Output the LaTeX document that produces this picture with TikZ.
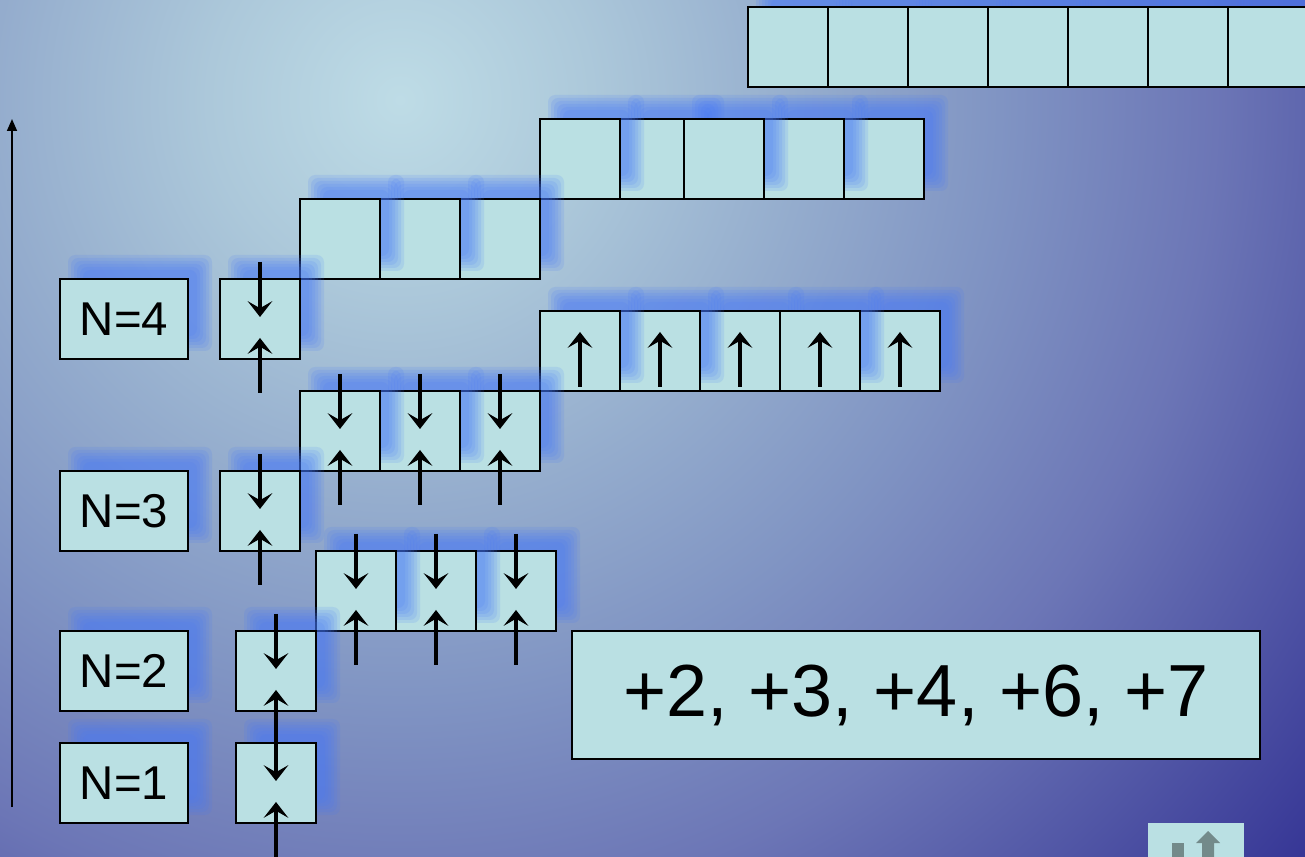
\documentclass[tikz,border=0pt]{standalone}
\usepackage{fontspec}
\setmainfont{Liberation Sans}
\usetikzlibrary{arrows.meta,calc}
\definecolor{bgLight}{RGB}{190,220,230}
\definecolor{bgA}{RGB}{172,200,218}
\definecolor{bgB}{RGB}{148,172,205}
\definecolor{bgC}{RGB}{128,148,195}
\definecolor{bgD}{RGB}{108,118,182}
\definecolor{bgE}{RGB}{80,85,165}
\definecolor{bgDark}{RGB}{55,55,150}
\definecolor{cellFill}{RGB}{186,224,227}
\definecolor{shadowBlue}{RGB}{70,120,250}
\definecolor{iconGrey}{RGB}{115,138,138}
\pgfdeclareradialshading{bgglow}{\pgfpoint{0bp}{0bp}}{%
  color(0bp)=(bgLight); color(4bp)=(bgA); color(8.5bp)=(bgB);
  color(12.5bp)=(bgC); color(17bp)=(bgD); color(21bp)=(bgE);
  color(24.5bp)=(bgDark); color(50bp)=(bgDark)}
\tikzset{
  cell/.style={draw, line width=1.2pt, fill=cellFill, minimum width=1.6cm,
    minimum height=1.6cm, inner sep=0pt, outer sep=0pt, anchor=north west},
  tag/.style={cell, minimum width=2.56cm, font=\fontsize{27}{30}\selectfont},
  sumbox/.style={cell, anchor=center, minimum width=13.76cm,
    minimum height=2.56cm, font=\fontsize{42}{46}\selectfont},
  glow/.style={fill=shadowBlue, fill opacity=0.14, rounded corners=4pt},
  arr/.style={line width=2pt, -{Stealth[length=9pt,width=14pt,inset=4pt]}},
  axis/.style={line width=1.1pt, -{Triangle[length=6.8pt,width=5.6pt]}}
}
% soft blue shadow up-right of the box, then the box itself
\newcommand{\boxat}[6]{%
  \foreach \e in {8,5,2,-1,-4,-7}
    \fill[glow] (#3+16-\e,#4-16-\e) rectangle (#3+#5+16+\e,#4+64+\e);
  \node[#1] (#2) at (#3,#4) {#6};
}
\begin{document}
\begin{tikzpicture}[x=0.02cm, y=-0.02cm]
  \useasboundingbox (0,0) rectangle (1305,857);
  \clip (0,0) rectangle (1305,857);
  \shade[shading=bgglow] (400,100) circle (24cm);

  % top row
  \foreach \i/\x in {1/748,2/828,3/908,4/988,5/1068,6/1148,7/1228}
    {\boxat{cell}{t\i}{\x}{7}{80}{}}
  \foreach \i/\x in {5/844,4/764,2/620,3/684,1/540}
    {\boxat{cell}{u\i}{\x}{119}{80}{}}
  \foreach \i/\x in {3/460,2/380,1/300}
    {\boxat{cell}{v\i}{\x}{199}{80}{}}
  \boxat{tag}{n4}{60}{279}{128}{N=4}
  \boxat{cell}{k4}{220}{279}{80}{}
  \foreach \i/\x in {5/860,3/700,4/780,2/620,1/540}
    {\boxat{cell}{w\i}{\x}{311}{80}{}}
  \foreach \i/\x in {3/460,2/380,1/300}
    {\boxat{cell}{m\i}{\x}{391}{80}{}}
  \boxat{tag}{n3}{60}{471}{128}{N=3}
  \boxat{cell}{k3}{220}{471}{80}{}
  \foreach \i/\x in {3/476,2/396,1/316}
    {\boxat{cell}{p\i}{\x}{551}{80}{}}
  \boxat{tag}{n2}{60}{631}{128}{N=2}
  \boxat{cell}{k2}{236}{631}{80}{}
  \boxat{tag}{n1}{60}{743}{128}{N=1}
  \boxat{cell}{k1}{236}{743}{80}{}

  \node[sumbox] (sum) at (916,695) {+2, +3, +4, +6, +7};

  % arrows into the cells
  \foreach \c in {k4,m1,m2,m3,k3,p1,p2,p3,k2,k1}{
    \draw[arr] ($(\c.north)+(0,-17)$) -- ($(\c.north)+(0,38)$);
    \draw[arr] ($(\c.south)+(0,34)$) -- ($(\c.south)+(0,-21)$);
  }
  \foreach \c in {w1,w2,w3,w4,w5}
    \draw[arr] ($(\c.south)+(0,-4)$) -- ($(\c.north)+(0,21)$);

  % vertical axis
  \coordinate (axlo) at (12,807);
  \coordinate (axhi) at (12,119);
  \draw[axis] (axlo) -- (axhi);

  % corner button
  \fill[cellFill] (1148,823) rectangle (1244,857);
  \fill[iconGrey] (1172,843) rectangle (1184,857);
  \fill[iconGrey] (1202,857) -- (1202,843) -- (1196,843) -- (1208,831)
    -- (1220,843) -- (1214,843) -- (1214,857) -- cycle;
\end{tikzpicture}
\end{document}
